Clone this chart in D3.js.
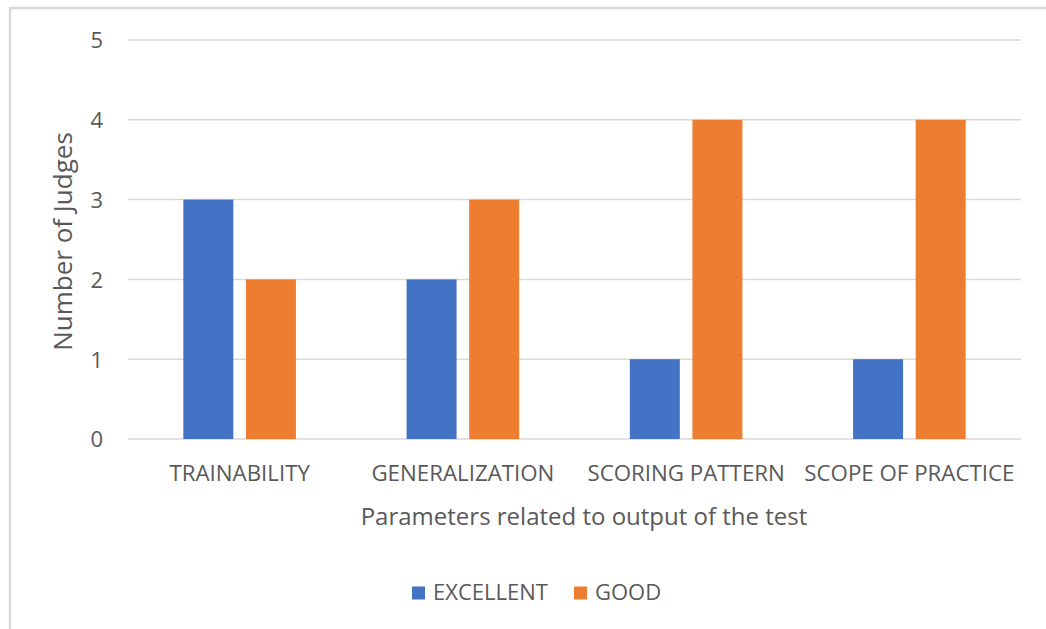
<!DOCTYPE html>
<html>
<head>
<meta charset="utf-8">
<script src="https://cdn.jsdelivr.net/npm/d3@7"></script>
<style>
  html, body { margin: 0; padding: 0; background: #fff; }
  svg { display: block; }
  text { font-family: "Open Sans", "Noto Sans", sans-serif; fill: #595959; }
</style>
</head>
<body>
<div id="chart"></div>
<script>
// Ratings given by the judges for each output parameter
const categories = ["TRAINABILITY", "GENERALIZATION", "SCORING PATTERN", "SCOPE OF PRACTICE"];
const seriesNames = ["EXCELLENT", "GOOD"];
const excellent = [3, 2, 1, 1];
const good = [2, 3, 4, 4];
const yTicks = [0, 1, 2, 3, 4, 5];

const seriesValues = { EXCELLENT: excellent, GOOD: good };
const colors = { EXCELLENT: "#4472C4", GOOD: "#ED7D31" };

const W = 1046, H = 629;
const plot = { left: 128, right: 1021, top: 40, bottom: 439 };

const svg = d3.select("#chart").append("svg")
  .attr("width", W).attr("height", H);

svg.append("rect").attr("width", W).attr("height", H).attr("fill", "#fff");

// chart-area frame (top and left edges)
svg.append("path")
  .attr("d", `M10,${H} L10,8 L${W},8`)
  .attr("fill", "none").attr("stroke", "#d9d9d9").attr("stroke-width", 2.5);

const y = d3.scaleLinear().domain([0, 5]).range([plot.bottom, plot.top]);
const x0 = d3.scaleBand().domain(categories).range([plot.left, plot.right]).padding(0);
const clusterW = 112.6;
const x1 = d3.scaleBand().domain(seriesNames).range([0, clusterW]).paddingInner(0.2013).paddingOuter(0);

// gridlines
svg.append("g").selectAll("line").data(yTicks).join("line")
  .attr("x1", plot.left).attr("x2", plot.right)
  .attr("y1", d => y(d)).attr("y2", d => y(d))
  .attr("stroke", "#d9d9d9").attr("stroke-width", 1.5);

// y tick labels
const yAxis = d3.axisLeft(y).tickValues(yTicks).tickFormat(d3.format("d")).tickSize(0).tickPadding(0);
const yg = svg.append("g").attr("transform", "translate(103,0)").call(yAxis);
yg.select(".domain").remove();
yg.selectAll("text").attr("font-size", 22).style("font-family", "\"Open Sans\", sans-serif").attr("fill", "#595959").attr("dy", "0.36em");

// bars
const groups = svg.append("g").selectAll("g").data(categories).join("g")
  .attr("transform", d => `translate(${x0(d) + (x0.bandwidth() - clusterW) / 2},0)`);

groups.selectAll("rect")
  .data((c, i) => seriesNames.map(s => ({ s, v: seriesValues[s][i] })))
  .join("rect")
  .attr("x", d => x1(d.s))
  .attr("width", x1.bandwidth())
  .attr("y", d => y(d.v))
  .attr("height", d => y(0) - y(d.v))
  .attr("fill", d => colors[d.s]);

// x category labels
const xAxis = d3.axisBottom(x0).tickSize(0).tickPadding(0);
const xg = svg.append("g").attr("transform", `translate(0,${plot.bottom + 42})`).call(xAxis);
xg.select(".domain").remove();
xg.selectAll("text").attr("font-size", 22.3).attr("dy", 0)
  .style("font-family", "\"Open Sans\", sans-serif").attr("fill", "#595959");

// axis titles
svg.append("text")
  .attr("x", 584).attr("y", 525)
  .attr("text-anchor", "middle").attr("font-size", 24)
  .text("Parameters related to output of the test");

svg.append("text")
  .attr("transform", "translate(72,241.5) rotate(-90)")
  .attr("text-anchor", "middle").attr("font-size", 26)
  .text("Number of Judges");

// legend
const legendItems = [
  { s: "EXCELLENT", x: 412 },
  { s: "GOOD", x: 574 }
];
const lg = svg.append("g").selectAll("g").data(legendItems).join("g")
  .attr("transform", d => `translate(${d.x},586.5)`);
lg.append("rect").attr("width", 13).attr("height", 13).attr("fill", d => colors[d.s]);
lg.append("text").attr("x", 21).attr("y", 13).attr("font-size", 22).text(d => d.s);
</script>
</body>
</html>
